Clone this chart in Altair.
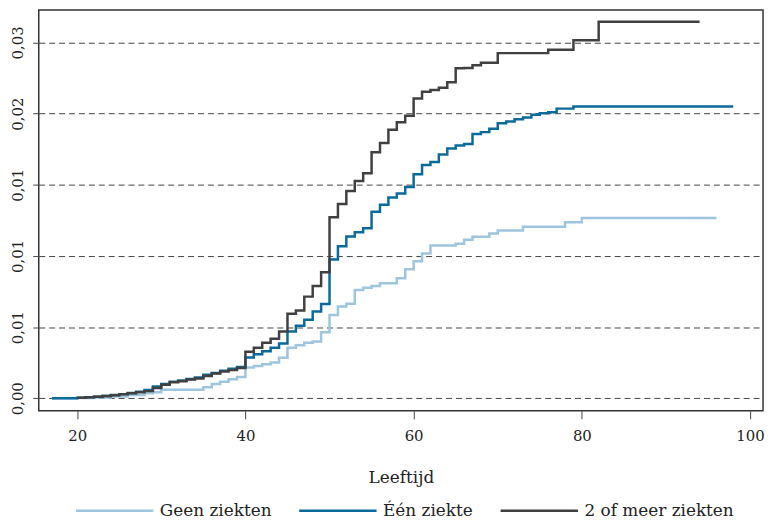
import altair as alt
import pandas as pd

series_names = ["Geen ziekten", "Één ziekte", "2 of meer ziekten"]
series_colors = ["#9ec4de", "#0b6a9c", "#404040"]

geen_age = [17, 20, 22, 24, 26, 28, 29, 30, 35, 36, 37, 38, 39, 40, 41, 42, 43, 44, 45, 46, 47, 48, 49,
            50, 51, 52, 53, 54, 55, 56, 58, 59, 60, 61, 62, 65, 66, 67, 69, 70, 73, 78, 80, 96]
geen_val = [0.0, 0.00002, 0.00006, 0.00012, 0.00022, 0.00035, 0.00042, 0.0006, 0.00077, 0.001, 0.00116,
            0.00134, 0.0015, 0.00216, 0.00227, 0.00239, 0.00251, 0.00285, 0.00355, 0.00373, 0.0039, 0.00398,
            0.00463, 0.00585, 0.00645, 0.00664, 0.00761, 0.00777, 0.00789, 0.00808, 0.00843, 0.00907,
            0.00963, 0.01017, 0.01074, 0.01086, 0.01114, 0.01135, 0.01158, 0.01179, 0.01205, 0.01237,
            0.01267, 0.01267]

een_age = [17, 20, 21, 22, 23, 24, 25, 26, 27, 28, 29, 30, 31, 32, 33, 34, 35, 36, 37, 38, 39, 40, 41, 42,
           43, 44, 45, 46, 47, 48, 49, 50, 51, 52, 53, 54, 55, 56, 57, 58, 59, 60, 61, 62, 63, 64, 65, 66,
           67, 68, 69, 70, 71, 72, 73, 74, 75, 76, 77, 79, 98]
een_val = [0.0, 0.00003, 0.00007, 0.00011, 0.00016, 0.00022, 0.00029, 0.00037, 0.00045, 0.00058, 0.00082,
           0.001, 0.00116, 0.00124, 0.00136, 0.00145, 0.00166, 0.00178, 0.00194, 0.00208, 0.0022, 0.00286,
           0.00309, 0.00331, 0.00355, 0.00385, 0.00469, 0.0051, 0.00552, 0.0061, 0.00662, 0.00975, 0.01068,
           0.01137, 0.01167, 0.01195, 0.01311, 0.0136, 0.01411, 0.01439, 0.01485, 0.01574, 0.01639, 0.0166,
           0.01713, 0.01755, 0.01776, 0.01787, 0.01857, 0.0187, 0.01894, 0.01933, 0.01945, 0.01961, 0.01973,
           0.01992, 0.02003, 0.0201, 0.02035, 0.0205, 0.0205]

meer_age = [20, 21, 22, 23, 24, 25, 26, 27, 28, 29, 30, 31, 32, 33, 34, 35, 36, 37, 38, 39, 40, 41, 42, 43,
            44, 45, 46, 47, 48, 49, 50, 51, 52, 53, 54, 55, 56, 57, 58, 59, 60, 61, 62, 63, 64, 65, 66, 67,
            68, 70, 76, 79, 82, 94]
meer_val = [0.00004, 0.00007, 0.0001, 0.00016, 0.00021, 0.00028, 0.00035, 0.00042, 0.0005, 0.00072,
            0.00095, 0.00112, 0.0012, 0.00132, 0.00138, 0.00157, 0.00174, 0.00188, 0.00199, 0.00213,
            0.00327, 0.00355, 0.0039, 0.00418, 0.00469, 0.00594, 0.00617, 0.00714, 0.00789, 0.00886,
            0.01272, 0.01365, 0.01457, 0.01527, 0.01581, 0.01729, 0.01794, 0.01887, 0.0194, 0.01985,
            0.02107, 0.02154, 0.02166, 0.02182, 0.02221, 0.02318, 0.0232, 0.0234, 0.02358, 0.02425,
            0.02448, 0.02516, 0.02646, 0.02646]

x_ticks = [20, 40, 60, 80, 100]
y_ticks = [0, 0.005, 0.01, 0.015, 0.02, 0.025]
y_tick_labels = ["0,00", "0,01", "0,01", "0,01", "0,02", "0,03"]

rows = []
for name, ages, vals in zip(series_names, [geen_age, een_age, meer_age], [geen_val, een_val, meer_val]):
    for a, v in zip(ages, vals):
        rows.append({"groep": name, "leeftijd": a, "waarde": v})
df = pd.DataFrame(rows)

label_expr = "[" + ",".join("'%s'" % s for s in y_tick_labels) + "][round(datum.value / 0.005)]"

FONT = "DejaVu Serif"

chart = alt.Chart(df).mark_line(interpolate="step-after", strokeWidth=2.5).encode(
    x=alt.X("leeftijd:Q",
            scale=alt.Scale(domain=[15.43, 101.54], nice=False, zero=False),
            axis=alt.Axis(values=x_ticks, grid=False, domain=False, tickSize=8, tickColor="#444",
                          tickWidth=1, labelPadding=10, labelFontSize=15, labelFont=FONT,
                          labelColor="#222", title="Leeftijd", titleFont=FONT, titleFontSize=17,
                          titleFontWeight="normal", titleColor="#222", titlePadding=26)),
    y=alt.Y("waarde:Q",
            scale=alt.Scale(domain=[-0.000885, 0.02728], nice=False, zero=False),
            axis=alt.Axis(values=y_ticks, labelExpr=label_expr, grid=True, gridDash=[6, 4],
                          gridColor="#444", gridWidth=1, domain=False, tickSize=7, tickDash=[6, 4],
                          tickColor="#444", labelAngle=270, labelAlign="center",
                          labelBaseline="alphabetic", labelPadding=9, labelFontSize=15,
                          labelFont=FONT, labelColor="#222", title=None)),
    color=alt.Color("groep:N",
                    scale=alt.Scale(domain=series_names, range=series_colors),
                    legend=alt.Legend(title=None, orient="none", legendX=36, legendY=464,
                                      direction="horizontal", symbolType="stroke", symbolSize=6084,
                                      symbolStrokeWidth=2.5, labelFont=FONT, labelFontSize=17,
                                      labelColor="#222", labelOffset=5, columnPadding=22, padding=0)),
    detail="groep:N",
).properties(
    width=730, height=404,
    autosize=alt.AutoSizeParams(type="none"),
    padding={"left": 31, "top": 0, "right": 3, "bottom": 108},
).configure_view(stroke="#333", strokeWidth=1.5)

chart.save("out.html", embed_options={"renderer": "svg", "actions": False})
